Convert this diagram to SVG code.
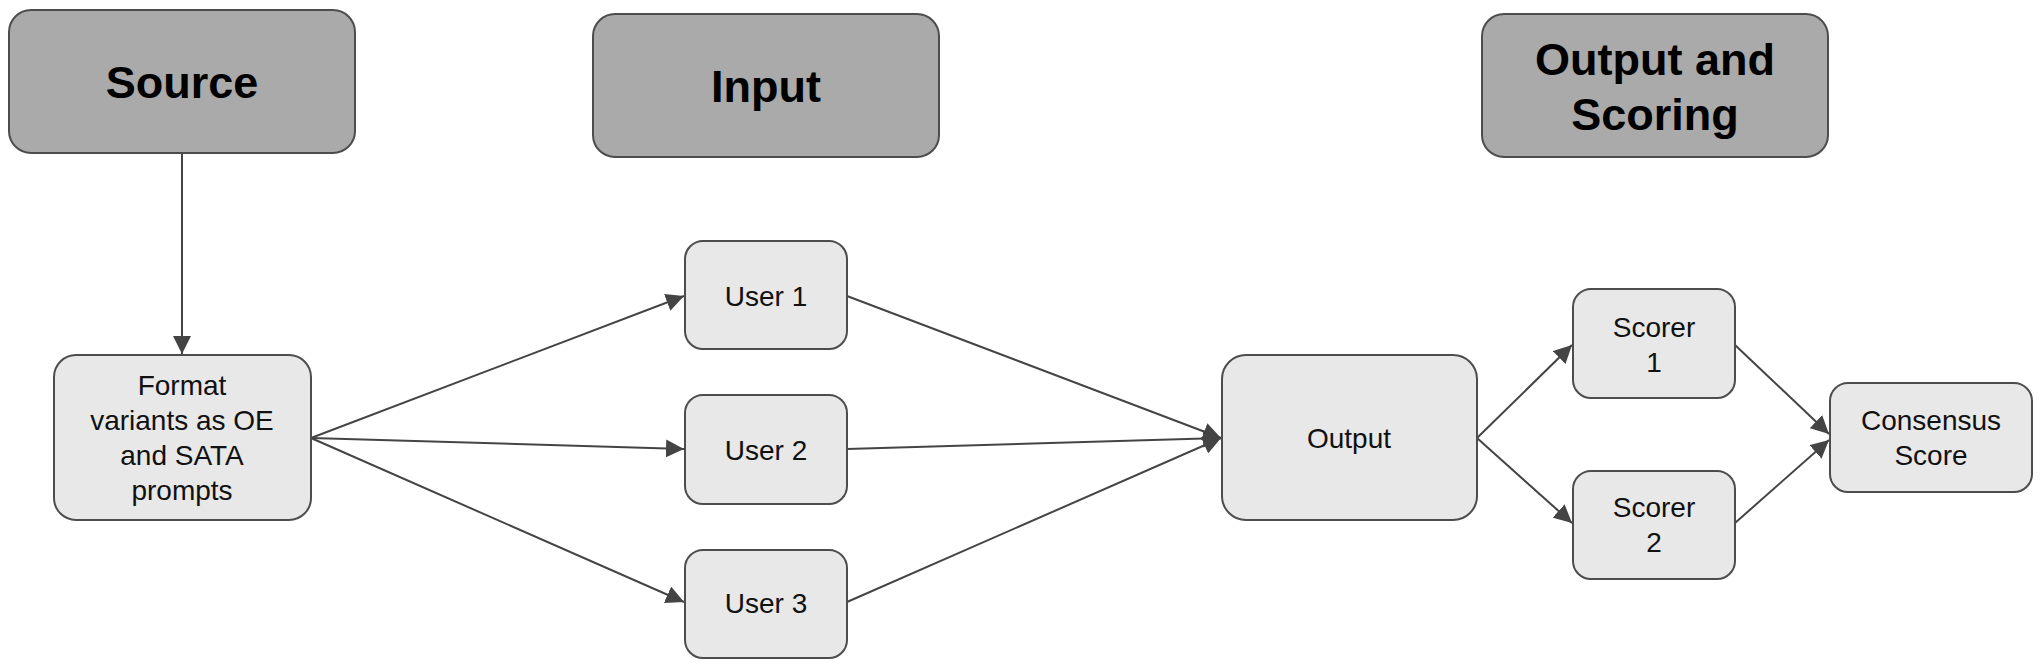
<svg xmlns="http://www.w3.org/2000/svg" width="2040" height="667" viewBox="0 0 2040 667">
<style>
.hdr{fill:#aaaaaa;stroke:#4d4d4d;stroke-width:2}
.box{fill:#e8e8e8;stroke:#4d4d4d;stroke-width:2}
.ht{font-family:"Liberation Sans",Arial,sans-serif;font-weight:bold;font-size:45px;fill:#000;text-anchor:middle}
.bt{font-family:"Liberation Sans",Arial,sans-serif;font-size:28px;fill:#111;text-anchor:middle}
.c{stroke:#444;stroke-width:2;fill:none;marker-end:url(#ah)}
</style>
<defs>
<marker id="ah" markerUnits="userSpaceOnUse" markerWidth="20" markerHeight="18" refX="18" refY="9" orient="auto">
<path d="M0,0 L18,9 L0,18 Z" fill="#444"/>
</marker>
</defs>
<rect width="2040" height="667" fill="#fff"/>
<g id="connectors">
<line class="c" x1="182" y1="153" x2="182" y2="354"/>
<line class="c" x1="311" y1="438" x2="684" y2="296"/>
<line class="c" x1="311" y1="438" x2="684" y2="449"/>
<line class="c" x1="311" y1="438" x2="684" y2="602"/>
<line class="c" x1="847" y1="296" x2="1221" y2="438"/>
<line class="c" x1="847" y1="449" x2="1221" y2="438"/>
<line class="c" x1="847" y1="602" x2="1221" y2="438"/>
<line class="c" x1="1477" y1="438" x2="1572" y2="345"/>
<line class="c" x1="1477" y1="438" x2="1572" y2="523"/>
<line class="c" x1="1735" y1="345" x2="1829" y2="434"/>
<line class="c" x1="1735" y1="523" x2="1829" y2="440"/>
</g>
<g id="source">
<rect class="hdr" x="9" y="10" width="346" height="143" rx="22"/>
<text class="ht" x="182" y="98">Source</text>
</g>
<g id="input">
<rect class="hdr" x="593" y="14" width="346" height="143" rx="22"/>
<text class="ht" x="766" y="102">Input</text>
</g>
<g id="output-scoring">
<rect class="hdr" x="1482" y="14" width="346" height="143" rx="22"/>
<text class="ht" x="1655" y="75">Output and</text>
<text class="ht" x="1655" y="130">Scoring</text>
</g>
<g id="format">
<rect class="box" x="54" y="355" width="257" height="165" rx="22"/>
<text class="bt" x="182" y="395">Format</text>
<text class="bt" x="182" y="430">variants as OE</text>
<text class="bt" x="182" y="465">and SATA</text>
<text class="bt" x="182" y="500">prompts</text>
</g>
<g id="user1">
<rect class="box" x="685" y="241" width="162" height="108" rx="18"/>
<text class="bt" x="766" y="306">User 1</text>
</g>
<g id="user2">
<rect class="box" x="685" y="395" width="162" height="109" rx="18"/>
<text class="bt" x="766" y="460">User 2</text>
</g>
<g id="user3">
<rect class="box" x="685" y="550" width="162" height="108" rx="18"/>
<text class="bt" x="766" y="613">User 3</text>
</g>
<g id="output">
<rect class="box" x="1222" y="355" width="255" height="165" rx="24"/>
<text class="bt" x="1349" y="448">Output</text>
</g>
<g id="scorer1">
<rect class="box" x="1573" y="289" width="162" height="109" rx="18"/>
<text class="bt" x="1654" y="337">Scorer</text>
<text class="bt" x="1654" y="372">1</text>
</g>
<g id="scorer2">
<rect class="box" x="1573" y="471" width="162" height="108" rx="18"/>
<text class="bt" x="1654" y="517">Scorer</text>
<text class="bt" x="1654" y="552">2</text>
</g>
<g id="consensus">
<rect class="box" x="1830" y="383" width="202" height="109" rx="18"/>
<text class="bt" x="1931" y="430">Consensus</text>
<text class="bt" x="1931" y="465">Score</text>
</g>
</svg>
